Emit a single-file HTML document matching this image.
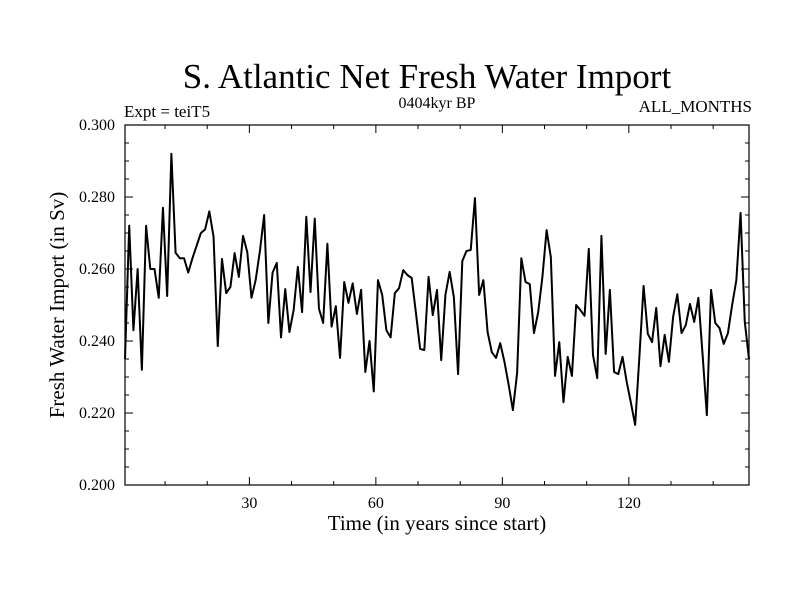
<!DOCTYPE html>
<html><head><meta charset="utf-8"><style>
html,body{margin:0;padding:0;background:#fff;}
svg{display:block;font-family:"Liberation Serif",serif;}
</style></head><body>
<svg id="chart" width="800" height="600" xmlns="http://www.w3.org/2000/svg">
<rect width="800" height="600" fill="#fff"/>
<text x="427" y="88" font-size="35" text-anchor="middle">S. Atlantic Net Fresh Water Import</text>
<text x="124" y="117" font-size="17">Expt = teiT5</text>
<text x="437" y="108" font-size="16" text-anchor="middle">0404kyr BP</text>
<text x="752" y="112" font-size="17" text-anchor="end">ALL_MONTHS</text>
<text x="437" y="530" font-size="21" text-anchor="middle">Time (in years since start)</text>
<text transform="translate(64,305) rotate(-90)" font-size="21" text-anchor="middle">Fresh Water Import (in Sv)</text>
<g id="axes"></g>
<path id="series" fill="none" stroke="#000" stroke-width="2" stroke-linejoin="round"/>
<rect x="125" y="125" width="624" height="360" fill="none" stroke="#000" stroke-width="1.2"/>
</svg>
<script>
const values = [0.235,0.272,0.243,0.260,0.232,0.272,0.260,0.260,0.252,0.277,0.2525,0.292,0.2645,0.263,0.263,0.259,0.263,0.2665,0.270,0.271,0.276,0.269,0.2386,0.2628,0.2533,0.255,0.2644,0.2578,0.2692,0.2647,0.252,0.257,0.265,0.275,0.245,0.259,0.2617,0.241,0.2544,0.2425,0.2486,0.2606,0.248,0.2745,0.2536,0.274,0.249,0.245,0.267,0.244,
0.2497,0.2353,0.2564,0.2506,0.256,0.2475,0.2542,0.2314,0.240,0.226,0.2569,0.2528,0.243,0.241,0.2533,0.2547,0.2597,0.2583,0.2575,0.2478,0.2378,0.2375,0.2578,0.2472,0.2542,0.2347,0.2528,0.2592,0.2522,0.2308,0.2622,0.265,0.2653,0.2797,0.2528,0.2569,0.2425,0.2369,0.2353,0.2394,0.2342,0.2278,0.2208,0.2311,0.263,0.2564,0.2558,0.2422,
0.248,0.2578,0.2708,0.2633,0.2303,0.2397,0.223,0.2356,0.2303,0.250,0.2486,0.247,0.2656,0.2361,0.2297,0.2692,0.2364,0.2542,0.2314,0.2308,0.2356,0.2286,0.2228,0.2167,0.2356,0.2553,0.242,0.2397,0.2492,0.233,0.2417,0.2342,0.2467,0.253,0.2422,0.2444,0.2503,0.2453,0.252,0.2361,0.2194,0.2542,0.245,0.2436,0.2392,0.2422,0.250,0.2569,0.2756,0.2453,0.235];
const xTicks = [30,60,90,120];
const yTicks = [0.200,0.220,0.240,0.260,0.280,0.300];
const xMin = 0.5, xMax = 148.5, yMin = 0.2, yMax = 0.3;
const L=125,R=749,T=125,B=485;
function xs(v){return L+(v-xMin)/(xMax-xMin)*(R-L);}
function ys(v){return B-(v-yMin)/(yMax-yMin)*(B-T);}
const NS="http://www.w3.org/2000/svg";
const ax=document.getElementById('axes');
function line(x1,y1,x2,y2,name){const l=document.createElementNS(NS,'line');l.setAttribute('x1',x1);l.setAttribute('y1',y1);l.setAttribute('x2',x2);l.setAttribute('y2',y2);l.setAttribute('stroke','#000');l.setAttribute('stroke-width','1');


ax.appendChild(l);}
function text(x,y,s,anchor,name){const t=document.createElementNS(NS,'text');t.setAttribute('x',x);t.setAttribute('y',y);t.setAttribute('font-size','16');t.setAttribute('text-anchor',anchor);t.textContent=s;


ax.appendChild(t);}
for(let v=10;v<xMax;v+=10){const x=xs(v);const major=xTicks.includes(v);const len=major?8:4;
line(x,B,x,B-len,'x-tick');line(x,T,x,T+len,'x-tick-top');}
xTicks.forEach(v=>text(xs(v),508,String(v),'middle','x-tick-label'));
for(let i=0;i<=20;i++){const v=yMin+i*0.005;const y=ys(v);const major=i%4===0;const len=major?8:4;
line(L,y,L+len,y,'y-tick');line(R,y,R-len,y,'y-tick-right');}
yTicks.forEach(v=>text(115,ys(v)+5,v.toFixed(3),'end','y-tick-label'));
let d='';
values.forEach((v,i)=>{d+=(i?'L':'M')+xs(i+0.5).toFixed(2)+','+ys(v).toFixed(2);});
document.getElementById('series').setAttribute('d',d);
</script>
</body></html>
